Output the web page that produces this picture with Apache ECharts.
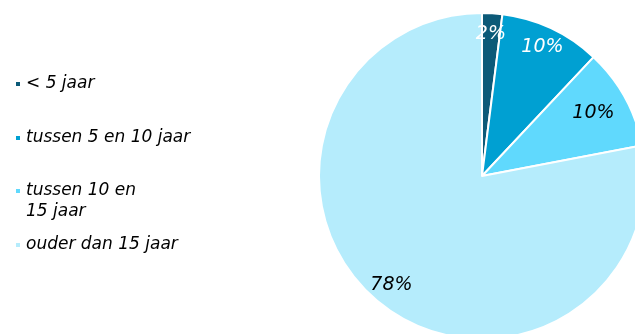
<!DOCTYPE html>
<html>
<head>
<meta charset="utf-8">
<script src="https://cdn.jsdelivr.net/npm/echarts@6/dist/echarts.min.js"></script>
<style>
  html, body { margin: 0; padding: 0; background: #ffffff; }
  #chart { width: 635px; height: 334px; }
</style>
</head>
<body>
<div id="chart"></div>
<script>
// Age categories and their share (%)
const categories = ['< 5 jaar', 'tussen 5 en 10 jaar', 'tussen 10 en 15 jaar', 'ouder dan 15 jaar'];
const shares = [2, 10, 10, 78];
const colors = ['#0c5a78', '#00a0d2', '#60d9fd', '#b5ecfc'];
const labelColors = ['#ffffff', '#ffffff', '#000000', '#000000'];

const FONT = "'DejaVu Sans', Verdana, sans-serif";
const legendCenters = [84, 138, 191, 245];
const LINE = 21;

const chart = echarts.init(document.getElementById('chart'), null, { renderer: 'canvas' });

// One legend block per category so the rows keep an even rhythm
const legends = categories.map((name, i) => {
  const twoLine = i === 2;
  const h = twoLine ? LINE * 3 : LINE;
  return {
    orient: 'vertical',
    left: 14,
    top: legendCenters[i] - h / 2,
    padding: 0,
    icon: 'rect',
    itemWidth: 6,
    itemHeight: 6,
    selectedMode: false,
    data: [name],
    formatter: twoLine ? () => '\ntussen 10 en\n15 jaar' : undefined,
    textStyle: {
      fontFamily: FONT,
      fontStyle: 'italic',
      fontSize: 17,
      lineHeight: LINE,
      color: '#000000'
    }
  };
});

const pieData = categories.map((name, i) => ({
  name: name,
  value: shares[i],
  itemStyle: { color: colors[i] }
}));

// Transparent ring that only carries the percentage labels
const labelData = categories.map((name, i) => ({
  name: name,
  value: shares[i],
  label: Object.assign({ color: labelColors[i] }, i === 2 ? { offset: [-13, 5] } : {})
}));

chart.setOption({
  animation: false,
  legend: legends,
  series: [
    {
      type: 'pie',
      center: [482, 176],
      radius: [0, 163],
      startAngle: 90,
      clockwise: true,
      silent: true,
      data: pieData,
      itemStyle: { borderColor: '#ffffff', borderWidth: 2 },
      label: { show: false },
      labelLine: { show: false }
    },
    {
      type: 'pie',
      center: [482, 176],
      radius: [115, 163],
      startAngle: 90,
      clockwise: true,
      silent: true,
      legendHoverLink: false,
      data: labelData,
      itemStyle: { color: 'rgba(0,0,0,0)', borderWidth: 0 },
      label: {
        show: true,
        position: 'inside',
        formatter: p => p.value + '%',
        fontFamily: FONT,
        fontStyle: 'italic',
        fontSize: 19
      },
      labelLine: { show: false }
    }
  ]
});
</script>
</body>
</html>
